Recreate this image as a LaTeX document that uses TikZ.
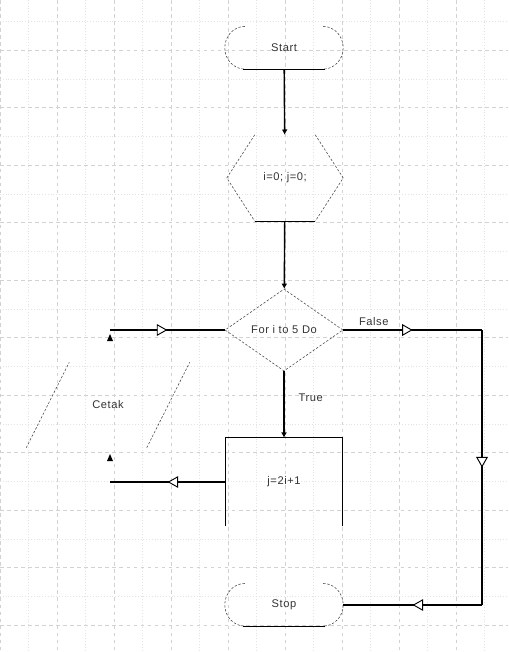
\documentclass[tikz,border=0pt]{standalone}
\usepackage{fontspec}
\usetikzlibrary{positioning,shapes.geometric,arrows.meta,decorations.markings}
\newfontfamily\chartfont[LetterSpace=5]{Liberation Sans}

\begin{document}
\begin{tikzpicture}[x=0.3mm, y=-0.3mm,
        every node/.style={font=\chartfont\fontsize{9.5}{11}\selectfont, text=black!80},
        term/.style={rectangle, minimum width=3.54cm, minimum height=1.28cm, inner sep=0pt},
        hexa/.style={rectangle, minimum width=3.48cm, minimum height=2.58cm, inner sep=0pt},
        decision/.style={diamond, aspect=1.44, draw=black!70, line width=0.5pt, dash pattern=on 2pt off 1.5pt, minimum width=3.54cm, minimum height=2.46cm, inner sep=1pt},
        process/.style={rectangle, minimum width=3.51cm, minimum height=2.64cm, inner sep=0pt},
        io/.style={rectangle, minimum width=4.89cm, minimum height=2.55cm, inner sep=0pt},
        dashedge/.style={draw=black!70, line width=0.5pt, dash pattern=on 2pt off 1.5pt},
        solidedge/.style={draw=black, line width=1.2pt},
        flow/.style={line width=1.2pt, -{Latex[length=4.5pt,width=5pt]}},
        backflow/.style={line width=1.2pt, postaction={decorate},
            decoration={markings, mark=at position 0.5 with {\arrow{Triangle[fill=white,line width=0.8pt,length=9pt,width=10pt]}}}},
        gridmajor/.style={gray!35, line width=0.4pt, dashed},
        gridminor/.style={gray!22, line width=0.4pt, dotted}
    ]
    \useasboundingbox (0,0) rectangle (508,652);

    % Background grid
    \foreach \gx in {0,57,...,508} \draw[gridmajor] (\gx,0) -- (\gx,652);
    \foreach \gx in {28.5,85.5,...,508} \draw[gridminor] (\gx,0) -- (\gx,652);
    \foreach \gy in {50,107.5,...,652} \draw[gridmajor] (0,\gy) -- (508,\gy);
    \foreach \gy in {21.25,78.75,...,652} \draw[gridminor] (0,\gy) -- (508,\gy);

    % Flowchart nodes
    \node[term] (start) at (284,48) {Start};
    \node[hexa] (init) at (285,178) {i=0; j=0;};
    \node[decision] (loop) at (284,330) {For i to 5 Do};
    \node[process] (calc) at (284,482) {j=2i+1};
    \node[io] (print) at (108,405) {Cetak};
    \node[term] (stop) at (284,605) {Stop};
    \coordinate (f1) at (482,330);
    \coordinate (f2) at (482,605);
    \coordinate (b1) at (110,482);
    \coordinate (b2) at (110,330);

    % Outlines
    \foreach \t in {start,stop}{
        \draw[dashedge] ([xshift=0.6cm]\t.north west) arc[start angle=90, end angle=270, x radius=0.6cm, y radius=0.64cm];
        \draw[dashedge] ([xshift=-0.6cm]\t.north east) arc[start angle=90, end angle=-90, x radius=0.6cm, y radius=0.64cm];
        \draw[solidedge] ([xshift=0.55cm]\t.south west) -- ([xshift=-0.55cm]\t.south east);
    }
    \draw[dashedge] ([xshift=0.84cm]init.north west) -- (init.west) -- ([xshift=0.84cm]init.south west);
    \draw[dashedge] ([xshift=-0.84cm]init.north east) -- (init.east) -- ([xshift=-0.84cm]init.south east);
    \draw[solidedge] ([xshift=0.84cm]init.south west) -- ([xshift=-0.84cm]init.south east);
    \draw[solidedge] (calc.south west) -- (calc.north west) -- (calc.north east) -- (calc.south east);
    \draw[dashedge] (print.south west) -- ([xshift=1.29cm]print.north west);
    \draw[dashedge] ([xshift=-1.29cm]print.south east) -- (print.north east);
    \fill[black] (107,341) -- (113,341) -- (110,334) -- cycle;
    \fill[black] (107,461) -- (113,461) -- (110,454) -- cycle;

    % Connectors
    \draw[flow] (start) -- (init);
    \draw[flow] (init) -- (loop);
    \draw[flow] (loop) -- node[right=0.3cm, pos=0.4] {True} (calc);
    \draw[backflow] (loop.east) -- node[above, pos=0.22] {False} (f1);
    \draw[backflow] (f1) -- (f2);
    \draw[backflow] (f2) -- (stop.east);
    \draw[backflow] (calc.west) -- (b1);
    \draw[backflow] (b2) -- (loop.west);
\end{tikzpicture}
\end{document}
